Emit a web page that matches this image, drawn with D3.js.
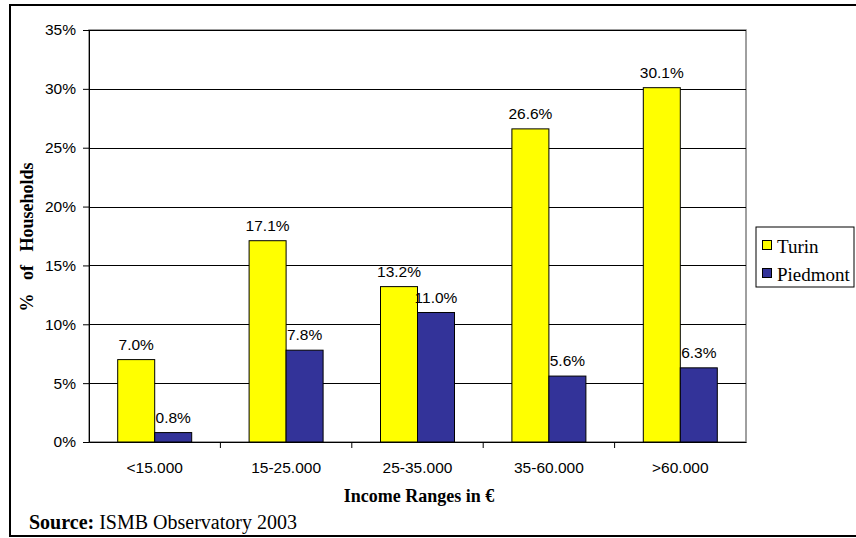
<!DOCTYPE html>
<html>
<head>
<meta charset="utf-8">
<script src="https://cdn.jsdelivr.net/npm/d3@7"></script>
<style>
body { margin: 0; background: #fff; }
</style>
</head>
<body>
<svg id="chart" width="856" height="538"></svg>
<script>
var categories = ["<15.000", "15-25.000", "25-35.000", "35-60.000", ">60.000"];
var seriesNames = ["Turin", "Piedmont"];
var turin = [7.0, 17.1, 13.2, 26.6, 30.1];
var piedmont = [0.8, 7.8, 11.0, 5.6, 6.3];
var yTicks = [0, 5, 10, 15, 20, 25, 30, 35];
var colors = ["#FFFF00", "#333399"];

var sans = "Liberation Sans, Arial";
var serif = "Liberation Serif, Times New Roman";

var svg = d3.select("#chart");

// outer frame
svg.append("rect").attr("x", 10).attr("y", 5).attr("width", 852).attr("height", 531)
   .style("fill", "#fff").style("stroke", "#000").style("stroke-width", 2);

var pLeft = 89, pRight = 746, pTop = 30, pBottom = 442;

var x = d3.scaleBand().domain(categories).range([pLeft, pRight]);
var x1 = d3.scaleBand().domain(seriesNames).range([0, 74]);
var y = d3.scaleLinear().domain([0, 35]).range([pBottom, pTop]);

// plot border
svg.append("rect").attr("x", pLeft).attr("y", pTop).attr("width", pRight - pLeft).attr("height", pBottom - pTop)
   .style("fill", "none").style("stroke", "#808080").style("stroke-width", 1.5);

// gridlines
svg.selectAll(".grid").data(yTicks.slice(1)).enter().append("line")
   .attr("x1", pLeft).attr("x2", pRight)
   .attr("y1", function(d){ return Math.round(y(d)) + 0.5; })
   .attr("y2", function(d){ return Math.round(y(d)) + 0.5; })
   .style("stroke", "#000").style("stroke-width", 1);

var data = [];
categories.forEach(function(c, i){
  data.push({cat: c, s: "Turin", v: turin[i], col: colors[0]});
  data.push({cat: c, s: "Piedmont", v: piedmont[i], col: colors[1]});
});

svg.selectAll(".bar").data(data).enter().append("rect")
   .attr("x", function(d){ return x(d.cat) + x.bandwidth()/2 - 37 + x1(d.s); })
   .attr("y", function(d){ return y(d.v); })
   .attr("width", x1.bandwidth())
   .attr("height", function(d){ return pBottom - y(d.v); })
   .style("fill", function(d){ return d.col; })
   .style("stroke", "#000").style("stroke-width", 1);

svg.selectAll(".lbl").data(data).enter().append("text")
   .attr("x", function(d){ return x(d.cat) + x.bandwidth()/2 - 37 + x1(d.s) + x1.bandwidth()/2; })
   .attr("y", function(d){ return y(d.v) - 10; })
   .attr("text-anchor", "middle")
   .text(function(d){ return d.v.toFixed(1) + "%"; })
   .style("font-family", sans).style("font-size", "15.5px").style("fill", "#000");

// y axis
var yAxis = svg.append("g").attr("transform", "translate(" + pLeft + ",0)")
   .call(d3.axisLeft(y).tickValues(yTicks).tickSize(6).tickPadding(7).tickFormat(function(d){ return d + "%"; }));
yAxis.select(".domain").style("stroke", "#000");
yAxis.selectAll("text").style("font-family", sans).style("font-size", "15.5px");

// x axis
var xAxis = svg.append("g").attr("transform", "translate(0," + pBottom + ")")
   .call(d3.axisBottom(x).tickSize(0).tickPadding(20));
xAxis.select(".domain").style("stroke", "#000");
xAxis.selectAll("text").style("font-family", sans).style("font-size", "15.5px");
svg.selectAll(".xt").data(categories.slice(1)).enter().append("line")
   .attr("x1", function(d){ return x(d); }).attr("x2", function(d){ return x(d); })
   .attr("y1", pBottom).attr("y2", pBottom + 6).style("stroke", "#000");

// axis titles
svg.append("text").attr("transform", "translate(33,237) rotate(-90)").attr("text-anchor", "middle")
   .style("white-space", "pre")
   .text("%   of   Households")
   .style("font-family", serif).style("font-weight", "bold").style("font-size", "18px");
svg.append("text").attr("x", 419).attr("y", 502).attr("text-anchor", "middle")
   .text("Income Ranges in €")
   .style("font-family", serif).style("font-weight", "bold").style("font-size", "18px");

var src = svg.append("text").attr("x", 29).attr("y", 529)
   .style("font-family", serif).style("font-size", "20px");
src.append("tspan").style("font-weight", "bold").text("Source:");
src.append("tspan").text(" ISMB Observatory 2003");

// legend
var lg = svg.append("g");
lg.append("rect").attr("x", 756).attr("y", 227).attr("width", 98).attr("height", 60)
  .style("fill", "#fff").style("stroke", "#000").style("stroke-width", 1);
seriesNames.forEach(function(s, i){
  lg.append("rect").attr("x", 762.5).attr("y", 240.5 + i*28).attr("width", 9).attr("height", 9)
    .style("fill", colors[i]).style("stroke", "#000");
  lg.append("text").attr("x", 777).attr("y", 253 + i*28).text(s)
    .style("font-family", serif).style("font-size", "19px");
});
</script>
</body>
</html>
